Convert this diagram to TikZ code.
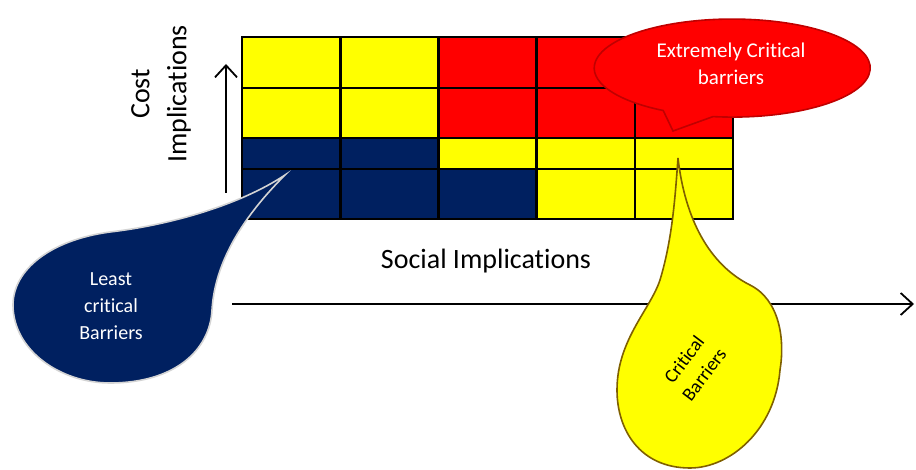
\documentclass[tikz,border=0pt]{standalone}
\usepackage{fontspec}
\setmainfont{Carlito}[RawFeature={-liga;-clig;-calt;-dlig}]
\usetikzlibrary{arrows,arrows.meta}
\definecolor{navy}{HTML}{002060}
\definecolor{mellow}{HTML}{FFFF00}
\definecolor{hotred}{HTML}{FF0000}
\definecolor{dropgray}{HTML}{D4D4D4}
\definecolor{olive}{HTML}{7F6000}
\definecolor{darkred}{HTML}{C00000}
\tikzset{cell/.style={draw=black,line width=2.6pt},
  axis/.style={-{Straight Barb[length=12pt,width=22pt]},line width=1.8pt},
  bubble/.style={line width=1.6pt}}

\begin{document}
\begin{tikzpicture}[x=1pt,y=-1pt]
\useasboundingbox (0,0) rectangle (916,470);
\coordinate(A) at (226,193);
\coordinate(B) at (226,64);
\coordinate(C) at (232,304);
\coordinate(D) at (914,304);
\foreach \c [count=\i from 0] in {mellow,mellow,hotred,hotred,hotred}
  \draw[cell,fill=\c] ({242+98.2*\i},37) rectangle ++(98.2,51);
\foreach \c [count=\i from 0] in {mellow,mellow,hotred,hotred,hotred}
  \draw[cell,fill=\c] ({242+98.2*\i},88) rectangle ++(98.2,50);
\foreach \c [count=\i from 0] in {navy,navy,mellow,mellow,mellow}
  \draw[cell,fill=\c] ({242+98.2*\i},138) rectangle ++(98.2,31);
\foreach \c [count=\i from 0] in {navy,navy,navy,mellow,mellow}
  \draw[cell,fill=\c] ({242+98.2*\i},169) rectangle ++(98.2,50);
\draw[axis] (A) -- (B);
\draw[axis] (C) -- (D);
\node[rotate=90, align=center, font=\fontsize{28}{37}\selectfont] (costlbl) at (161,94) {Cost\\Implications};
\node[font=\fontsize{28}{34}\selectfont] (sociallbl) at (486,261) {Social Implications};
\draw[bubble, draw=dropgray, fill=navy] (285,175) .. controls (240,205) and (170,225) .. (110,232)
  .. controls (50,240) and (13,270) .. (13,305) .. controls (13,350) and (60,383) .. (110,383)
  .. controls (175,383) and (210,350) .. (212,310) .. controls (215,260) and (245,215) .. cycle;
\node[white, align=center, font=\fontsize{20}{27}\selectfont] (leastlbl) at (111,306) {Least\\critical\\Barriers};
\draw[bubble, draw=olive, fill=mellow] (678,158) .. controls (685,220) and (710,265) .. (750,285)
  .. controls (780,300) and (785,340) .. (780,370) .. controls (775,430) and (730,468) .. (690,468)
  .. controls (640,468) and (617,430) .. (617,390) .. controls (617,340) and (650,310) .. (660,280)
  .. controls (672,240) and (675,200) .. cycle;
\node[rotate=53, align=center, font=\fontsize{19}{25}\selectfont] (critlbl) at (694,367) {Critical\\Barriers};
\draw[bubble, draw=darkred, fill=hotred] (713,116.6) arc[start angle=262, end angle=600, x radius=138pt, y radius=49pt] -- (673,131) -- cycle;
\node[white, align=center, font=\fontsize{21}{27}\selectfont] (extremelbl) at (731,64) {Extremely Critical\\barriers};
\end{tikzpicture}
\end{document}
